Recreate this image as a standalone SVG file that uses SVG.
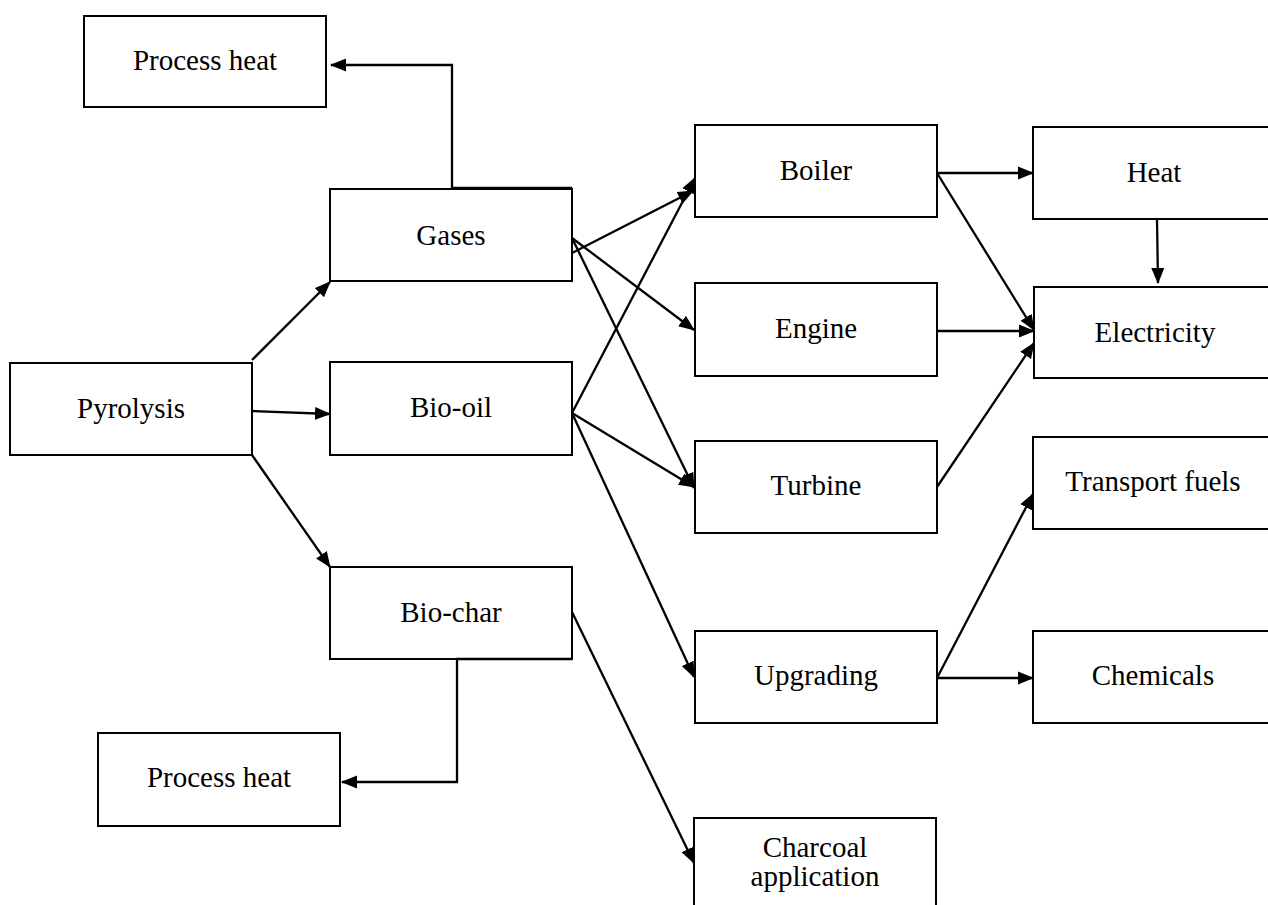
<svg xmlns="http://www.w3.org/2000/svg" width="1268" height="905" viewBox="0 0 1268 905">
<style>
  rect.box { fill: #fff; stroke: #000; stroke-width: 2; }
  text { font-family: "Liberation Serif", "Times New Roman", serif; font-size: 29px; fill: #000; text-anchor: middle; }
  .conn path, .conn line { fill: none; stroke: #000; stroke-width: 2.3; marker-end: url(#arr); }
</style>
<defs>
  <marker id="arr" markerUnits="userSpaceOnUse" markerWidth="18" markerHeight="14" refX="15" refY="7" orient="auto">
    <path d="M0,0.5 L16,7 L0,13.5 z" fill="#000"/>
  </marker>
</defs>
<rect width="1268" height="905" fill="#fff"/>

<g id="process-heat-top"><rect class="box" x="84" y="16" width="242" height="91"/><text x="205" y="70">Process heat</text></g>
<g id="gases"><rect class="box" x="330" y="189" width="242" height="92"/><text x="451" y="245">Gases</text></g>
<g id="pyrolysis"><rect class="box" x="10" y="363" width="242" height="92"/><text x="131" y="418">Pyrolysis</text></g>
<g id="bio-oil"><rect class="box" x="330" y="362" width="242" height="93"/><text x="451" y="417">Bio-oil</text></g>
<g id="bio-char"><rect class="box" x="330" y="567" width="242" height="92"/><text x="451" y="622">Bio-char</text></g>
<g id="process-heat-bottom"><rect class="box" x="98" y="733" width="242" height="93"/><text x="219" y="787">Process heat</text></g>
<g id="boiler"><rect class="box" x="695" y="125" width="242" height="92"/><text x="816" y="180">Boiler</text></g>
<g id="engine"><rect class="box" x="695" y="283" width="242" height="93"/><text x="816" y="338">Engine</text></g>
<g id="turbine"><rect class="box" x="695" y="441" width="242" height="92"/><text x="816" y="495">Turbine</text></g>
<g id="upgrading"><rect class="box" x="695" y="631" width="242" height="92"/><text x="816" y="685">Upgrading</text></g>
<g id="charcoal"><rect class="box" x="694" y="818" width="242" height="110"/><text x="815" y="857">Charcoal</text><text x="815" y="886">application</text></g>
<g id="heat"><rect class="box" x="1033" y="127" width="260" height="92"/><text x="1154" y="182">Heat</text></g>
<g id="electricity"><rect class="box" x="1034" y="287" width="260" height="91"/><text x="1155" y="342">Electricity</text></g>
<g id="transport-fuels"><rect class="box" x="1033" y="437" width="260" height="92"/><text x="1153" y="491">Transport fuels</text></g>
<g id="chemicals"><rect class="box" x="1033" y="631" width="260" height="92"/><text x="1153" y="685">Chemicals</text></g>

<g id="connectors" class="conn">
  <path d="M572,188 L452,188 L452,65 L331,65"/>
  <path d="M572,659 L457,659 L457,782 L342,782"/>
  <line x1="252" y1="360" x2="330" y2="282"/>
  <line x1="252" y1="411" x2="330" y2="414"/>
  <line x1="252" y1="455" x2="330" y2="567"/>
  <line x1="572" y1="253" x2="693" y2="191"/>
  <line x1="572" y1="238" x2="694" y2="330"/>
  <line x1="572" y1="238" x2="694" y2="488"/>
  <line x1="572" y1="413" x2="695" y2="178"/>
  <line x1="572" y1="413" x2="694" y2="487"/>
  <line x1="572" y1="413" x2="694" y2="677"/>
  <line x1="572" y1="612" x2="694" y2="863"/>
  <line x1="937" y1="173" x2="1033" y2="173"/>
  <line x1="937" y1="173" x2="1034" y2="330"/>
  <line x1="1157" y1="219" x2="1158" y2="283"/>
  <line x1="937" y1="331" x2="1034" y2="331"/>
  <line x1="937" y1="487" x2="1034" y2="343"/>
  <line x1="937" y1="678" x2="1033" y2="494"/>
  <line x1="937" y1="678" x2="1033" y2="678"/>
</g>
</svg>
